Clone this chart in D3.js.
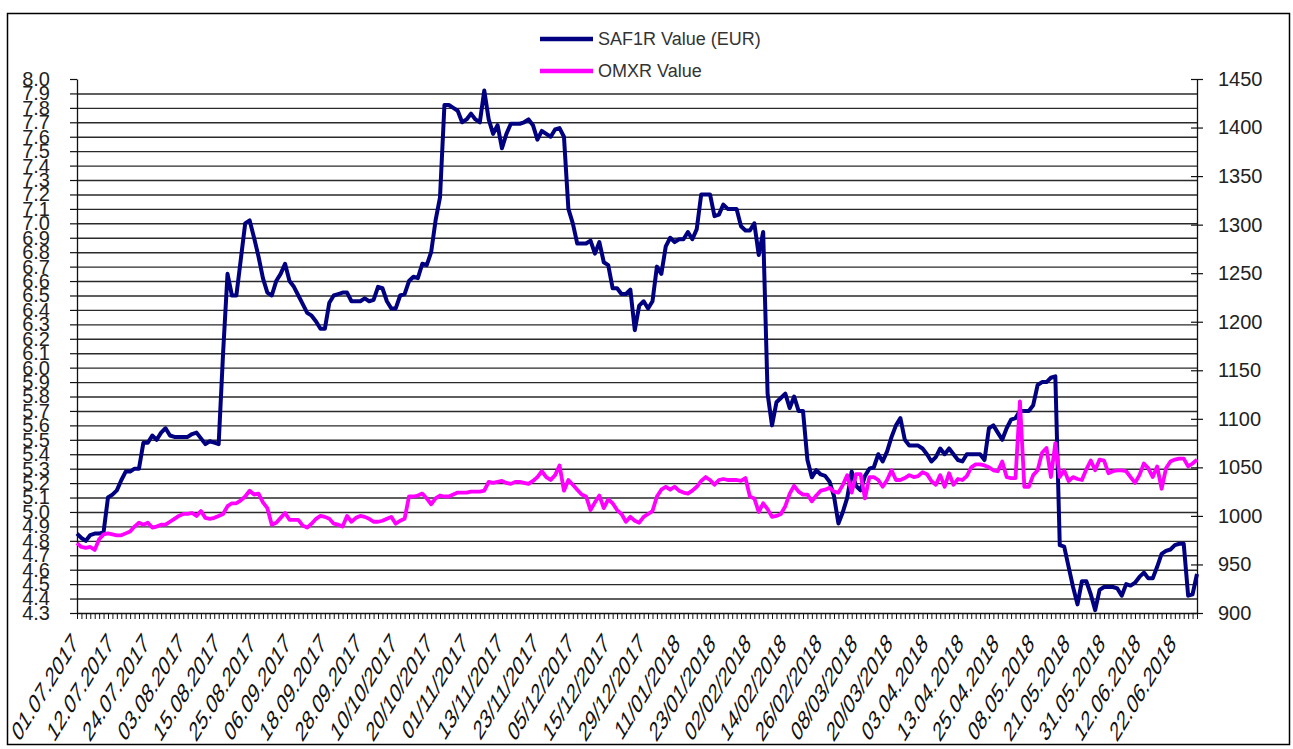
<!DOCTYPE html>
<html>
<head>
<meta charset="utf-8">
<script src="https://cdn.jsdelivr.net/npm/d3@7"></script>
<style>
  body { margin: 0; background: #fff; }
  svg { display: block; font-family: "Liberation Sans", Arial, sans-serif; }
</style>
</head>
<body>
<svg id="chart" width="1293" height="749"></svg>
<script>
// SAF1R daily value (EUR), left axis
const saf1r = [
  4.85, 4.82, 4.80, 4.84, 4.85, 4.85, 4.86, 5.10, 5.12, 5.15,
  5.22, 5.28, 5.28, 5.30, 5.30, 5.48, 5.48, 5.53, 5.50, 5.55,
  5.58, 5.53, 5.52, 5.52, 5.52, 5.52, 5.54, 5.55, 5.51, 5.47,
  5.49, 5.48, 5.47, 6.10, 6.65, 6.50, 6.50, 6.75, 7.00, 7.02,
  6.90, 6.77, 6.62, 6.52, 6.50, 6.60, 6.65, 6.72, 6.60, 6.56,
  6.50, 6.44, 6.38, 6.36, 6.32, 6.27, 6.27, 6.45, 6.50, 6.51,
  6.52, 6.52, 6.46, 6.46, 6.46, 6.48, 6.46, 6.47, 6.56, 6.55,
  6.46, 6.41, 6.41, 6.50, 6.51, 6.60, 6.63, 6.62, 6.72, 6.71,
  6.80, 7.02, 7.18, 7.82, 7.82, 7.80, 7.78, 7.70, 7.72, 7.76,
  7.72, 7.70, 7.92, 7.72, 7.62, 7.68, 7.52, 7.62, 7.69, 7.69,
  7.69, 7.70, 7.72, 7.68, 7.58, 7.64, 7.62, 7.60, 7.65, 7.66,
  7.60, 7.10, 7.00, 6.86, 6.86, 6.86, 6.88, 6.79, 6.87, 6.73,
  6.71, 6.55, 6.55, 6.51, 6.51, 6.54, 6.26, 6.43, 6.46, 6.41,
  6.46, 6.70, 6.65, 6.84, 6.90, 6.87, 6.89, 6.89, 6.94, 6.89,
  6.96, 7.20, 7.20, 7.20, 7.05, 7.06, 7.13, 7.10, 7.10, 7.10,
  6.98, 6.95, 6.95, 7.00, 6.78, 6.94, 5.82, 5.60, 5.76, 5.79,
  5.82, 5.72, 5.80, 5.70, 5.70, 5.36, 5.24, 5.29, 5.26, 5.25,
  5.21, 5.11, 4.92, 5.00, 5.10, 5.28, 5.18, 5.15, 5.25, 5.30,
  5.31, 5.40, 5.35, 5.42, 5.52, 5.60, 5.65, 5.50, 5.46, 5.46,
  5.46, 5.44, 5.40, 5.35, 5.38, 5.44, 5.40, 5.44, 5.40, 5.36,
  5.35, 5.40, 5.40, 5.40, 5.40, 5.36, 5.58, 5.60, 5.55, 5.50,
  5.58, 5.64, 5.65, 5.70, 5.70, 5.70, 5.74, 5.88, 5.90, 5.90,
  5.93, 5.94, 4.77, 4.76, 4.62, 4.48, 4.36, 4.52, 4.52, 4.43,
  4.32, 4.46, 4.48, 4.48, 4.48, 4.47, 4.42, 4.50, 4.49, 4.51,
  4.55, 4.58, 4.54, 4.54, 4.62, 4.71, 4.73, 4.74, 4.77, 4.78,
  4.78, 4.42, 4.43, 4.57
];

// OMXR index value, right axis
const omxr = [
  972, 968, 967, 968, 965, 976, 981, 982, 981, 980,
  980, 982, 984, 989, 993, 991, 993, 988, 989, 991,
  991, 994, 997, 1000, 1002, 1002, 1003, 1000, 1005, 998,
  997, 998, 1000, 1002, 1010, 1013, 1013, 1016, 1020, 1026,
  1022, 1023, 1014, 1008, 991, 993, 998, 1003, 996, 996,
  996, 990, 988, 992, 997, 1000, 999, 997, 992, 991,
  989, 1000, 994, 998, 1000, 999, 997, 994, 994, 995,
  997, 999, 992, 995, 997, 1020, 1020, 1021, 1023, 1018,
  1012, 1018, 1021, 1020, 1020, 1022, 1024, 1024, 1024, 1025,
  1025, 1025, 1026, 1035, 1034, 1035, 1036, 1034, 1033, 1035,
  1035, 1034, 1033, 1036, 1040, 1046, 1040, 1037, 1042, 1052,
  1026, 1037, 1032, 1027, 1022, 1020, 1006, 1014, 1021, 1008,
  1017, 1013, 1006, 1002, 994, 999, 995, 993, 999, 1002,
  1005, 1020, 1027, 1030, 1027, 1030, 1026, 1024, 1023, 1026,
  1030, 1036, 1040, 1037, 1032, 1037, 1038, 1037, 1037, 1037,
  1036, 1039, 1020, 1018, 1004, 1013, 1007, 999, 1000, 1002,
  1010, 1023, 1031, 1025, 1022, 1022, 1015, 1021, 1026, 1027,
  1029, 1025, 1024, 1032, 1042, 1024, 1043, 1043, 1018, 1040,
  1040, 1037, 1030, 1037, 1047, 1037, 1037, 1039, 1042, 1040,
  1041, 1045, 1043, 1036, 1032, 1042, 1030, 1044, 1032, 1038,
  1037, 1041, 1050, 1053, 1053, 1052, 1050, 1047, 1046, 1056,
  1040, 1039, 1039, 1118, 1030, 1030, 1042, 1047, 1065, 1070,
  1040, 1075, 1040, 1047, 1036, 1040, 1038, 1037, 1048, 1057,
  1047, 1058, 1057, 1044, 1046, 1047, 1047, 1046, 1040, 1034,
  1042, 1054, 1049, 1040, 1051, 1028, 1049, 1056, 1058, 1059,
  1059, 1051, 1054, 1058
];

// one label every 8 trading days
const tickLabels = [
  "01.07.2017", "12.07.2017", "24.07.2017", "03.08.2017", "15.08.2017",
  "25.08.2017", "06.09.2017", "18.09.2017", "28.09.2017", "10/10/2017",
  "20/10/2017", "01/11/2017", "13/11/2017", "23/11/2017", "05/12/2017",
  "15/12/2017", "29/12/2017", "11/01/2018", "23/01/2018", "02/02/2018",
  "14/02/2018", "26/02/2018", "08/03/2018", "20/03/2018", "03.04.2018",
  "13.04.2018", "25.04.2018", "08.05.2018", "21.05.2018", "31.05.2018",
  "12.06.2018", "22.06.2018"
];
const labelStep = 8;
const leftTicks = d3.range(43, 81).map(d => d / 10);
const rightTicks = [900, 950, 1000, 1050, 1100, 1150, 1200, 1250, 1300, 1350, 1400, 1450];

const series = [
  { name: "SAF1R Value (EUR)", values: saf1r, color: "#000080", axis: "left" },
  { name: "OMXR Value", values: omxr, color: "#ff00ff", axis: "right" }
];

const svg = d3.select("#chart");
const plotLeft = 77, plotRight = 1197, plotTop = 79, plotBottom = 613;
const n = saf1r.length;

const x = d3.scaleLinear().domain([0, n - 1]).range([plotLeft, plotRight]);
const yL = d3.scaleLinear().domain([4.3, 8.0]).range([plotBottom, plotTop]);
const yR = d3.scaleLinear().domain([900, 1450]).range([plotBottom, plotTop]);

// outer frame
svg.append("rect")
    .attr("x", 7.5).attr("y", 13.5)
    .attr("width", 1282).attr("height", 731)
    .attr("fill", "none")
    .attr("stroke", "#000")
    .attr("stroke-width", 1.5);

// gridlines
svg.append("g")
    .attr("transform", `translate(${plotLeft},0)`)
    .call(d3.axisLeft(yL)
        .tickValues(leftTicks.filter(d => d > 4.35 && d < 7.95))
        .tickSize(-(plotRight - plotLeft))
        .tickFormat(""))
    .call(g => g.select(".domain").remove())
    .call(g => g.selectAll(".tick line").attr("stroke", "#2a2a2a").attr("stroke-width", 1.4));

// left axis
svg.append("g")
    .attr("transform", `translate(${plotLeft},0)`)
    .call(d3.axisLeft(yL)
        .tickValues(leftTicks)
        .tickSize(7)
        .tickSizeOuter(0)
        .tickPadding(20)
        .tickFormat(d3.format(".1f")))
    .call(g => g.select(".domain").attr("stroke", "#111").attr("stroke-width", 1.3))
    .call(g => g.selectAll(".tick line").attr("stroke", "#111").attr("stroke-width", 1.2))
    .call(g => g.selectAll(".tick text")
        .attr("font-size", 20)
        .attr("fill", "#222")
        .attr("font-family", "'Liberation Sans', Arial, sans-serif"));

// right axis
svg.append("g")
    .attr("transform", `translate(${plotRight},0)`)
    .call(d3.axisRight(yR)
        .tickValues(rightTicks)
        .tickSize(6)
        .tickSizeOuter(0)
        .tickPadding(15)
        .tickFormat(d3.format("d")))
    .call(g => g.select(".domain").attr("stroke", "#111").attr("stroke-width", 1.3))
    .call(g => g.selectAll(".tick line").attr("x1", -6).attr("stroke", "#111").attr("stroke-width", 1.2))
    .call(g => g.selectAll(".tick text")
        .attr("font-size", 20)
        .attr("fill", "#222")
        .attr("font-family", "'Liberation Sans', Arial, sans-serif"));

// bottom axis, a tick for every trading day
svg.append("g")
    .attr("transform", `translate(0,${plotBottom})`)
    .call(d3.axisBottom(x)
        .tickValues(d3.range(0, n))
        .tickSize(6)
        .tickSizeOuter(0)
        .tickFormat(""))
    .call(g => g.select(".domain").attr("stroke", "#111").attr("stroke-width", 1.3))
    .call(g => g.selectAll(".tick line").attr("stroke", "#111").attr("stroke-width", 1));

// slanted date labels
svg.append("g")
    .selectAll("text")
    .data(tickLabels)
    .join("text")
    .attr("transform", (d, i) => `translate(${x(i * labelStep) + 2},${plotBottom + 32}) scale(1,1.63) rotate(-45)`)
    .attr("text-anchor", "end")
    .attr("font-size", 17)
    .attr("fill", "#111")
    .text(d => d);

// lines
series.forEach(s => {
    const yScale = s.axis === "left" ? yL : yR;
    const line = d3.line()
        .x((d, i) => x(i))
        .y(d => yScale(d));
    svg.append("path")
        .datum(s.values)
        .attr("fill", "none")
        .attr("stroke", s.color)
        .attr("stroke-width", s.axis === "left" ? 4 : 3.8)
        .attr("stroke-linejoin", "round")
        .attr("d", line);
});

// legend
const legend = svg.append("g").attr("transform", "translate(540,39)");
series.forEach((s, i) => {
    const g = legend.append("g").attr("transform", `translate(0,${i * 32})`);
    g.append("line")
        .attr("x1", 0).attr("x2", 53)
        .attr("stroke", s.color)
        .attr("stroke-width", 4.5);
    g.append("text")
        .attr("x", 58)
        .attr("dy", "0.35em")
        .attr("font-size", 18)
        .attr("fill", "#333")
        .text(s.name);
});
</script>
</body>
</html>
